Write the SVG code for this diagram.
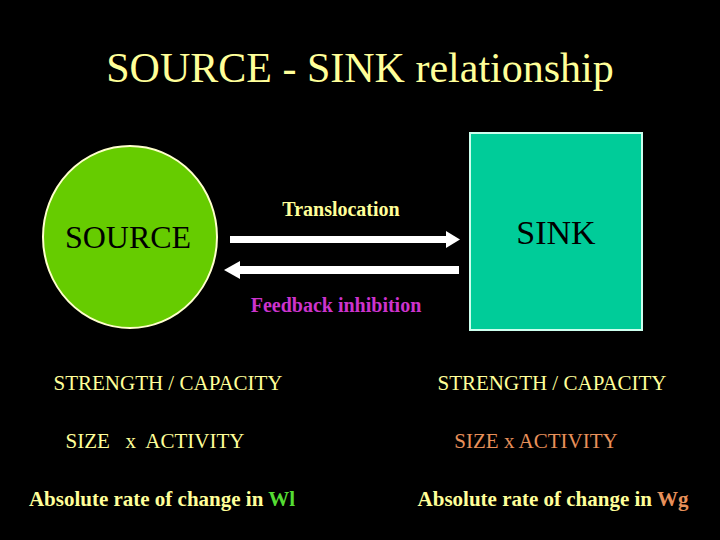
<svg xmlns="http://www.w3.org/2000/svg" width="720" height="540" viewBox="0 0 720 540">
<style>
text{font-family:"Liberation Serif","Times New Roman",serif}
.y{fill:#ffff99}
.lbl{font-size:21px}
</style>
<rect width="720" height="540" fill="#000"/>
<text x="360" y="82" text-anchor="middle" font-size="42" class="y">SOURCE - SINK  relationship</text>
<g id="source">
<ellipse cx="130" cy="237" rx="87" ry="91" fill="#66cc00" stroke="#ffffcc" stroke-width="2"/>
<text x="128" y="248" text-anchor="middle" font-size="32" fill="#000">SOURCE</text>
</g>
<g id="sink">
<rect x="470" y="133" width="172" height="197" fill="#00cc99" stroke="#ccffee" stroke-width="2"/>
<text x="556" y="244" text-anchor="middle" font-size="34" fill="#000">SINK</text>
</g>
<g id="connectors" fill="#fff">
<rect x="230" y="236" width="220" height="7"/>
<polygon points="446,231 460,239.5 446,248"/>
<rect x="238" y="266" width="221" height="8"/>
<polygon points="240,261 224,270 240,279"/>
<text x="341" y="216" text-anchor="middle" font-size="20" font-weight="bold" class="y">Translocation</text>
<text x="336" y="312" text-anchor="middle" font-size="20" font-weight="bold" fill="#cc33cc">Feedback inhibition</text>
</g>
<g id="labels" class="lbl">
<text x="168" y="390" text-anchor="middle" class="y">STRENGTH / CAPACITY</text>
<text x="552" y="390" text-anchor="middle" class="y">STRENGTH / CAPACITY</text>
<text x="155" y="448" text-anchor="middle" class="y" xml:space="preserve">SIZE   x  ACTIVITY</text>
<text x="536" y="448" text-anchor="middle" fill="#e8905a">SIZE  x  ACTIVITY</text>
<text x="162" y="506" text-anchor="middle" font-weight="bold" class="y">Absolute rate of change in <tspan fill="#55dd33">Wl</tspan></text>
<text x="553" y="506" text-anchor="middle" font-weight="bold" class="y">Absolute rate of change in <tspan fill="#e8905a">Wg</tspan></text>
</g>
</svg>
